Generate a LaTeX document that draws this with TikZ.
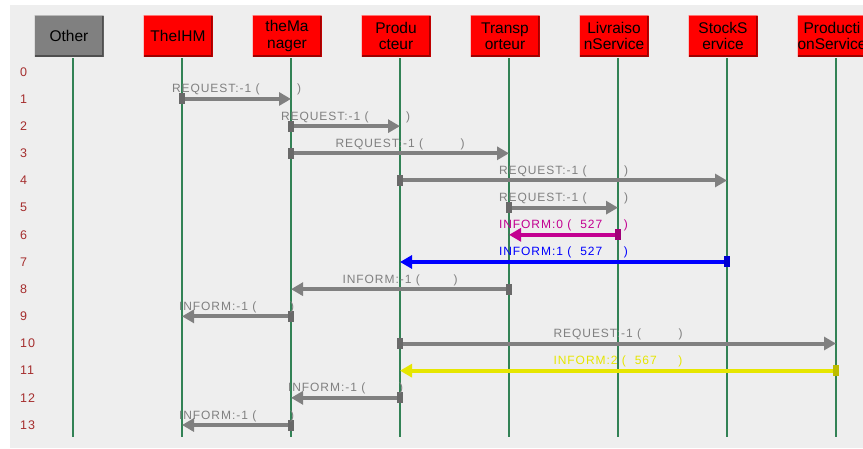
\documentclass[tikz,border=0pt]{standalone}
\usepackage{fontspec}
\setmainfont{Liberation Sans}
\newfontfamily\msgfont[LetterSpace=8]{Liberation Sans}
\usetikzlibrary{arrows.meta}

\definecolor{bgray}{HTML}{EEEEEE}
\definecolor{lifegreen}{RGB}{50,130,85}
\definecolor{msggray}{RGB}{128,128,128}
\definecolor{msgmag}{RGB}{195,0,145}
\definecolor{msgblue}{RGB}{0,0,255}
\definecolor{msgyel}{RGB}{230,230,0}
\definecolor{rowred}{RGB}{165,45,45}

% message labels
\newcommand\msgreq{\makebox[129pt][l]{REQUEST:-1 (\hfill)}}
\newcommand\msginf{\makebox[115pt][l]{INFORM:-1 (\hfill)}}
\newcommand\msgval[2]{\makebox[129pt][l]{INFORM:#1 (\hspace{9pt}#2\hfill)}}

\begin{document}
\begin{tikzpicture}[
  x=1pt,y=-1pt,
  font=\fontsize{15.5}{16.5}\selectfont,
  actor/.style={minimum width=69pt,minimum height=41pt,inner sep=0pt,
                align=center,fill=#1,
                path picture={
                  \draw[line width=3pt,#1!62!black]
                    (path picture bounding box.north east) --
                    (path picture bounding box.south east) --
                    (path picture bounding box.south west);
                  \draw[line width=1.5pt,#1!55!white]
                    (path picture bounding box.south west) --
                    (path picture bounding box.north west) --
                    (path picture bounding box.north east);}},
  life/.style={draw=lifegreen,line width=1.3pt},
  rownum/.style={anchor=west,inner sep=0pt,text=rowred,
                 font=\msgfont\fontsize{12.5}{14}\selectfont},
  msg/.style={line width=4pt,draw=#1,text=#1,
              arrows={Rectangle[length=6pt,width=11pt,color=#1!82!black]-Triangle[length=12pt,width=13pt]},
              shorten <=-3pt},
  req/.style={msg=msggray},
  inf/.style={msg=msggray},
  infmag/.style={msg=msgmag},
  infblue/.style={msg=msgblue},
  infyel/.style={msg=msgyel},
  lbl/.style={midway,anchor=base,yshift=6pt,inner sep=0pt,
              font=\msgfont\fontsize{12}{14}\selectfont}
]

\fill[white] (0,0) rectangle (863,448);
\fill[bgray] (10,5) rectangle (863,448);
\useasboundingbox (0,0) rectangle (863,448);

% lifelines and their heads
\foreach \n/\x/\t/\c in {oth/73/Other/gray, ihm/182/TheIHM/red,
    mgr/291/{theMa\\nager}/red, prd/400/{Produ\\cteur}/red,
    trn/509/{Transp\\orteur}/red, liv/618/{Livraiso\\nService}/red,
    stk/727/{StockS\\ervice}/red, pdn/836/{Producti\\onService}/red} {
  \coordinate (\n) at (\x,58);
  \coordinate (\n end) at (\x,437);
  \node[actor=\c] (\n box) at (\x-4,36) {\t};
  \draw[life] (\n) -- (\n end);
}

% time steps
\foreach \i in {0,...,13}
  \node[rownum] (r\i) at (20,71.8+27.17*\i) {\i};

% messages
\foreach \r/\a/\b/\st/\txt in {
    1/ihm/mgr/req/\msgreq,
    2/mgr/prd/req/\msgreq,
    3/mgr/trn/req/\msgreq,
    4/prd/stk/req/\msgreq,
    5/trn/liv/req/\msgreq,
    6/liv/trn/infmag/{\msgval{0}{527}},
    7/stk/prd/infblue/{\msgval{1}{527}},
    8/trn/mgr/inf/\msginf,
    9/mgr/ihm/inf/\msginf,
    10/prd/pdn/req/\msgreq,
    11/pdn/prd/infyel/{\msgval{2}{567}},
    12/prd/mgr/inf/\msginf,
    13/mgr/ihm/inf/\msginf}
  \draw[\st] (\a |- r\r) -- node[lbl] {\txt} (\b |- r\r);

\end{tikzpicture}
\end{document}
